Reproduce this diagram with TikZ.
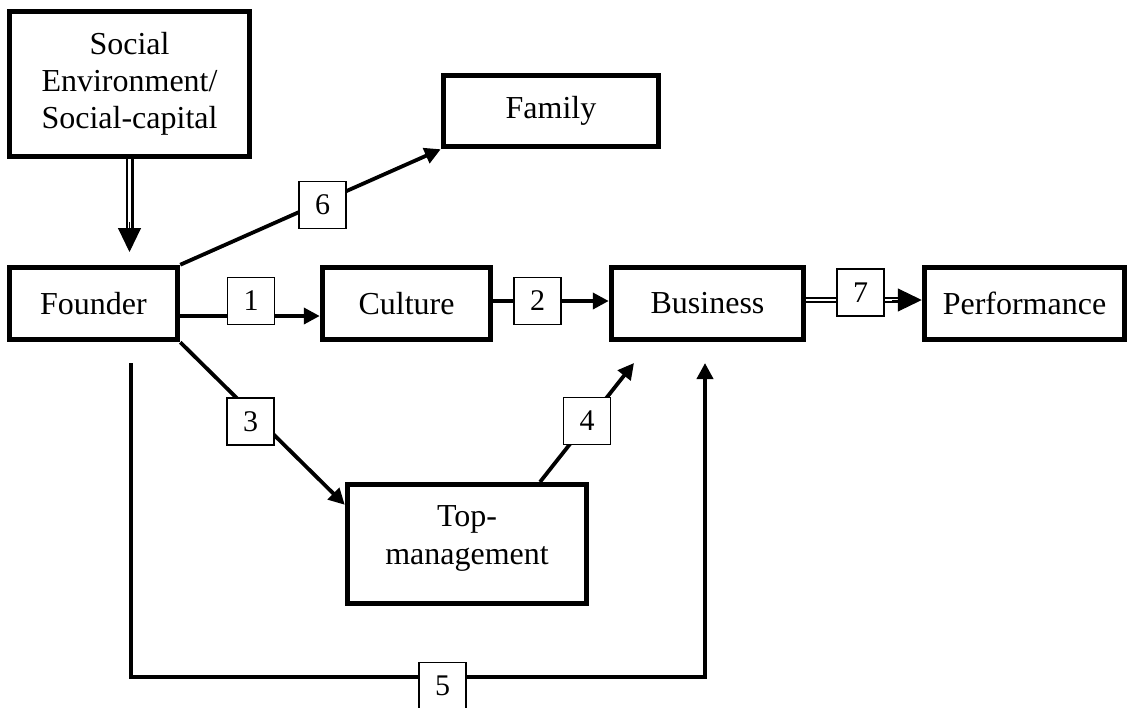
\documentclass[tikz,border=0pt]{standalone}
\usepackage{fontspec}
\setmainfont{Liberation Serif}
\usetikzlibrary{arrows.meta,calc}
\begin{document}
\begin{tikzpicture}[x=1pt,y=-1pt]
\tikzset{
 bigbox/.style={draw, line width=5.5pt, inner sep=0pt, align=center, font=\fontsize{32}{37}\selectfont},
 plaintext/.style={inner sep=0pt, align=center, font=\fontsize{32}{38}\selectfont},
 numbox/.style={draw, line width=1.6pt, fill=white, minimum width=47pt, minimum height=47pt, inner sep=0pt, font=\fontsize{30}{30}\selectfont},
 conn/.style={line width=3.8pt, line join=miter, -{Triangle[length=16pt,width=16pt]}},
 dblh/.style={double, double distance=2.2pt, line width=2pt},
 dblv/.style={double, double distance=3pt, line width=2.5pt},
 bigtip/.style={line width=1pt, -{Triangle[length=24pt,width=23pt]}},
}
\useasboundingbox (0,0) rectangle (1129,707);

% main boxes
\node[bigbox, minimum width=240pt, minimum height=145pt] (soc) at (129.5,84) {Social\\Environment/\\Social-capital};
\node[bigbox, minimum width=215pt, minimum height=71pt] (fam) at (551,111) {Family};
\node[bigbox, minimum width=168pt, minimum height=72pt] (fnd) at (93.5,303.5) {Founder};
\node[bigbox, minimum width=168pt, minimum height=72pt] (cul) at (406.5,303.5) {Culture};
\node[bigbox, minimum width=192pt, minimum height=72pt] (bus) at (707.5,303.5) {Business};
\node[bigbox, minimum width=200pt, minimum height=72pt] (perf) at (1024.5,303.5) {Performance};
\node[bigbox, minimum width=239pt, minimum height=119pt] (top) at (467,544) {};
\node[plaintext] (toptext) at (467,538) {Top-\\management};

% helper coordinates
\coordinate (tipS) at (soc.south |- 0,252);
\coordinate (a1s) at ($(fnd.east)+(0,12.5)$);
\coordinate (a1e) at ($(cul.west)+(0,12.5)$);
\coordinate (a2s) at ($(cul.east)+(0,-2.5)$);
\coordinate (a2e) at ($(bus.west)+(0,-2.5)$);
\coordinate (a7s) at ($(bus.east)+(0,-3.5)$);
\coordinate (a7e) at ($(perf.west)+(0,-3.5)$);
\coordinate (a3e) at ($(top.north west)+(0,23)$);
\coordinate (a4s) at (540,482);
\coordinate (a4e) at (634,363);
\coordinate (s5) at (131,363);
\coordinate (e5) at (705,363);

% connectors
\draw[dblv] (soc.south) -- ($(tipS)+(0,-22)$);
\draw[bigtip] ($(tipS)+(0,-30)$) -- (tipS);
\draw[conn] (fnd.north east) -- (fam.south west);
\draw[conn] (a1s) -- (a1e);
\draw[conn] (a2s) -- (a2e);
\draw[dblh] (a7s) -- ($(a7e)+(-22,0)$);
\draw[bigtip] ($(a7e)+(-30,0)$) -- (a7e);
\draw[conn] (fnd.south east) -- (a3e);
\draw[conn] (a4s) -- (a4e);
\draw[conn] (s5) -- (s5 |- 0,677) -- (e5 |- 0,677) -- (e5);

% number labels
\node[numbox] (n6) at (322.5,205) {6};
\node[numbox] (n1) at (251,301) {1};
\node[numbox] (n2) at (537.5,301) {2};
\node[numbox] (n7) at (860.5,292.5) {7};
\node[numbox] (n3) at (250.5,421.5) {3};
\node[numbox] (n4) at (587,421) {4};
\node[numbox] (n5) at (442.5,686) {5};
\end{tikzpicture}
\end{document}
